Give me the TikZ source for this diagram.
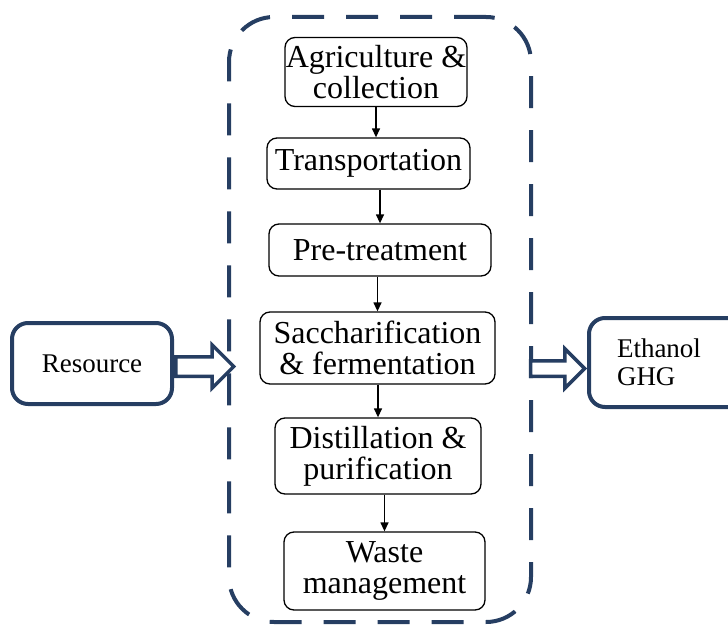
\documentclass[tikz,border=0pt]{standalone}
\usepackage{fontspec}
\setmainfont{Liberation Serif}
\usetikzlibrary{arrows.meta,shapes.arrows}
\definecolor{navy}{RGB}{38,62,98}

\begin{document}
\begin{tikzpicture}[x=1pt,y=-1pt,
	stage/.style={draw,rounded corners=10pt,line width=1.3pt,align=center,inner sep=0,font=\fontsize{32}{31}\selectfont},
	iobox/.style={draw=navy,rounded corners=16pt,line width=4pt,inner sep=0,font=\fontsize{27}{28}\selectfont},
	flow/.style={-{Triangle[length=9pt,width=8pt]},line width=1.3pt},
	hollow/.style={single arrow,draw=navy,fill=white,line width=3.5pt,inner xsep=0,inner ysep=8pt,single arrow head extend=12pt,shape border rotate=0}]
	\useasboundingbox (0,0) rectangle (728,626);
	% process boundary
	\node[draw=navy,line width=4pt,dash pattern=on 32pt off 22pt,rounded corners=45pt,minimum width=302pt,minimum height=605pt] (chain) at (380,319.5) {};
	% stages
	\node[stage,minimum width=182pt,minimum height=69pt] (agri) at (376,72) {Agriculture \&\\collection};
	\node[stage,minimum width=203pt,minimum height=51pt] (trans) at (368.5,163.5) {Transportation};
	\node[stage,minimum width=222pt,minimum height=52pt] (pre) at (380,250) {Pre-treatment};
	\node[stage,minimum width=235pt,minimum height=72pt] (sacc) at (377.5,348) {Saccharification\\\& fermentation};
	\node[stage,minimum width=206pt,minimum height=76pt] (dist) at (378,456) {Distillation \&\\purification};
	\node[stage,minimum width=201pt,minimum height=78pt] (waste) at (384.5,571) {Waste\\management};
	\draw[flow] (agri.south) -- (agri.south |- trans.north);
	\foreach \a/\b in {trans/pre,pre/sacc,sacc/dist,dist/waste}
		\draw[flow] (\b.north |- \a.south) -- (\b.north);
	% input and output
	\node[iobox,minimum width=160pt,minimum height=81pt] (res) at (92,363.5) {Resource};
	\node[iobox,anchor=west,minimum height=89pt,text width=112pt,inner xsep=28pt,align=left] (out) at (587,362.5) {Ethanol\\GHG};
	\node[hollow,anchor=tail,minimum height=58pt] (inarrow) at ([yshift=-3pt]res.east) {};
	\node[hollow,anchor=tip,minimum height=54pt,inner ysep=6pt] (outarrow) at ([yshift=-6pt]out.west) {};
\end{tikzpicture}
\end{document}
